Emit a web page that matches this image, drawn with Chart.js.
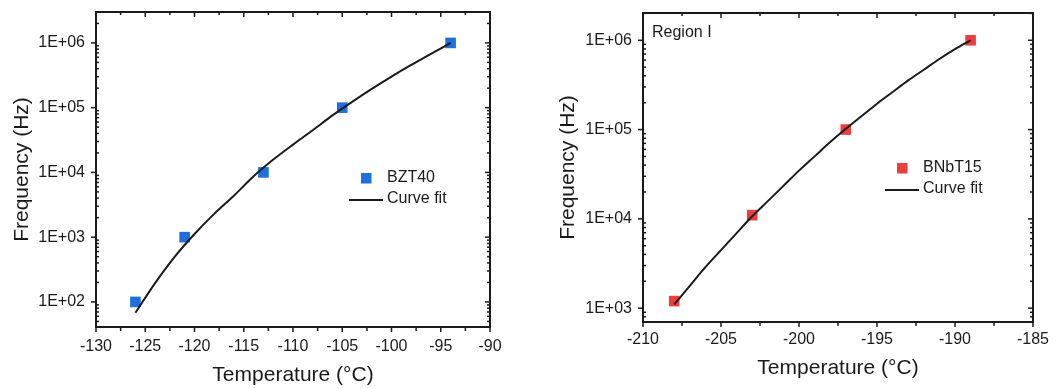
<!DOCTYPE html>
<html>
<head>
<meta charset="utf-8">
<script src="https://cdn.jsdelivr.net/npm/chart.js"></script>
<style>
  html, body { margin: 0; padding: 0; background: #fff; }
  .panel { position: absolute; top: 0; height: 389px; }
</style>
</head>
<body>
<div class="panel" style="left:0;width:520px"><canvas id="bzt" width="520" height="389"></canvas></div>
<div class="panel" style="left:540px;width:516px"><canvas id="bnbt" width="516" height="389"></canvas></div>
<script>
// BZT40: measured relaxation peaks and the fitted curve
const bztTemp = [-126, -121, -113, -105, -94];
const bztFreq = [100, 1000, 10000, 100000, 1000000];
const bztFitTemp = [-126, -124, -122, -120, -118, -116, -114, -112, -110, -108, -106, -104, -102, -100, -98, -96, -94];
const bztFitFreq = [68, 195, 500, 1120, 2290, 4370, 8710, 15800, 26900, 44700, 75900, 123000, 195000, 302000, 457000, 676000, 1000000];

// BNbT15 (region I)
const bnbtTemp = [-208, -203, -197, -189];
const bnbtFreq = [1200, 11000, 100000, 1000000];
const bnbtFitTemp = [-208, -207, -206, -205, -204, -203, -202, -201, -200, -199, -198, -197, -196, -195, -194, -193, -192, -191, -190, -189];
const bnbtFitFreq = [1100, 1780, 2880, 4470, 6920, 10700, 15800, 23400, 34700, 50100, 72400, 102000, 141000, 195000, 263000, 355000, 468000, 617000, 794000, 1000000];

// axis ticks
const bztXTicks = [-130, -125, -120, -115, -110, -105, -100, -95, -90];
const bztYTicks = [1e2, 1e3, 1e4, 1e5, 1e6];
const bztYLabels = ['1E+02', '1E+03', '1E+04', '1E+05', '1E+06'];
const bnbtXTicks = [-210, -205, -200, -195, -190, -185];
const bnbtYTicks = [1e3, 1e4, 1e5, 1e6];
const bnbtYLabels = ['1E+03', '1E+04', '1E+05', '1E+06'];

const ink = '#1a1a1a';
const FONT = '"Liberation Sans", Arial, sans-serif';

// box frame, mirrored ticks, minor ticks, inline legend and note
const framePlugin = {
  id: 'frame',
  afterDatasetsDraw(chart, args, opts) {
    const { ctx, chartArea: a, scales: { x, y } } = chart;
    ctx.save();
    ctx.strokeStyle = ink;
    ctx.lineWidth = 1.5;
    const line = (x1, y1, x2, y2) => { ctx.beginPath(); ctx.moveTo(x1, y1); ctx.lineTo(x2, y2); ctx.stroke(); };

    const xMajor = x.ticks.map(t => t.value);
    const xMinor = [];
    for (let i = 0; i < xMajor.length - 1; i++) xMinor.push((xMajor[i] + xMajor[i + 1]) / 2);
    xMajor.forEach(v => {
      const px = x.getPixelForValue(v);
      line(px, a.bottom, px, a.bottom + 5);
      line(px, a.top, px, a.top + 5);
    });
    xMinor.forEach(v => {
      const px = x.getPixelForValue(v);
      line(px, a.bottom, px, a.bottom + 4);
      line(px, a.top, px, a.top + 3);
    });

    const yMinor = [];
    for (let d = Math.floor(Math.log10(y.min)); d <= Math.ceil(Math.log10(y.max)); d++) {
      for (let k = 2; k <= 9; k++) {
        const v = k * Math.pow(10, d);
        if (v > y.min && v < y.max) yMinor.push(v);
      }
    }
    y.ticks.forEach(t => {
      const py = y.getPixelForValue(t.value);
      line(a.left - 5, py, a.left, py);
      line(a.right - 5, py, a.right, py);
    });
    yMinor.forEach(v => {
      const py = y.getPixelForValue(v);
      line(a.left, py, a.left + 3, py);
      line(a.right - 3, py, a.right, py);
    });

    ctx.lineWidth = 2;
    ctx.strokeRect(a.left, a.top, a.width, a.height);

    // legend
    const lg = opts.legend;
    const fit = chart.data.datasets[0];
    const pts = chart.data.datasets[1];
    ctx.font = '16px ' + FONT;
    ctx.fillStyle = ink;
    ctx.textBaseline = 'middle';
    ctx.textAlign = 'left';
    ctx.fillText(pts.label, lg.x, lg.y);
    ctx.fillText(fit.label, lg.x, lg.y + lg.gap);
    ctx.fillStyle = pts.backgroundColor;
    ctx.fillRect(lg.x - 26, lg.y - 5, 10.5, 10.5);
    ctx.strokeStyle = fit.borderColor;
    ctx.lineWidth = 2;
    line(lg.x - 38, lg.y + lg.gap + 1, lg.x - 4, lg.y + lg.gap + 1);

    if (opts.note) {
      ctx.fillStyle = ink;
      ctx.font = '16px ' + FONT;
      ctx.fillText(opts.note.text, opts.note.x, opts.note.y);
    }
    ctx.restore();
  }
};

function buildChart(id, p) {
  return new Chart(document.getElementById(id), {
    type: 'scatter',
    data: {
      datasets: [
        {
          label: 'Curve fit',
          data: p.fitT.map((t, i) => ({ x: t, y: p.fitF[i] })),
          showLine: true,
          cubicInterpolationMode: 'monotone',
          borderColor: ink,
          borderWidth: 2,
          pointRadius: 0,
          order: 0
        },
        {
          label: p.name,
          data: p.T.map((t, i) => ({ x: t, y: p.F[i] })),
          pointStyle: 'rect',
          pointRadius: 7.5,
          backgroundColor: p.color,
          borderWidth: 0,
          order: 1
        }
      ]
    },
    options: {
      responsive: false,
      animation: false,
      events: [],
      layout: { padding: { top: p.top, right: p.right, left: 0, bottom: 0 } },
      plugins: {
        legend: { display: false },
        tooltip: { enabled: false },
        frame: { legend: p.legend, note: p.note }
      },
      scales: {
        x: {
          type: 'linear',
          min: p.xTicks[0],
          max: p.xTicks[p.xTicks.length - 1],
          afterBuildTicks: s => { s.ticks = p.xTicks.map(v => ({ value: v })); },
          afterFit: s => { s.height = p.xh; s.paddingLeft = 0; s.paddingRight = 0; },
          grid: { display: false, drawTicks: false },
          border: { display: false },
          ticks: { color: ink, font: { size: 16, family: FONT }, padding: p.xPad, maxRotation: 0, autoSkip: false },
          title: { display: true, text: 'Temperature (°C)', color: ink, font: { size: 21, family: FONT }, padding: { top: 0, bottom: p.xTitlePad } }
        },
        y: {
          type: 'logarithmic',
          min: p.yMin,
          max: p.yMax,
          afterBuildTicks: s => { s.ticks = p.yTicks.map(v => ({ value: v })); },
          afterFit: s => { s.width = p.yw; s.paddingTop = 0; s.paddingBottom = 0; },
          grid: { display: false, drawTicks: false },
          border: { display: false },
          ticks: { color: ink, font: { size: 16, family: FONT }, padding: 11, autoSkip: false,
                   callback: (v, i) => p.yLabels[i] },
          title: { display: true, text: 'Frequency (Hz)', color: ink, font: { size: 21, family: FONT }, padding: { top: p.yTitlePad, bottom: 0 } }
        }
      }
    },
    plugins: [framePlugin]
  });
}

buildChart('bzt', {
  name: 'BZT40', color: '#1f6fdc',
  T: bztTemp, F: bztFreq, fitT: bztFitTemp, fitF: bztFitFreq,
  xTicks: bztXTicks, yTicks: bztYTicks, yLabels: bztYLabels,
  yMin: 41, yMax: 3.0e6,
  top: 12, right: 30, yw: 96, xh: 62,
  xPad: 10, xTitlePad: 1.4, yTitlePad: 9.4,
  legend: { x: 387, y: 178, gap: 21 }
});

buildChart('bnbt', {
  name: 'BNbT15', color: '#ee3d3d',
  T: bnbtTemp, F: bnbtFreq, fitT: bnbtFitTemp, fitF: bnbtFitFreq,
  xTicks: bnbtXTicks, yTicks: bnbtYTicks, yLabels: bnbtYLabels,
  yMin: 700, yMax: 2.02e6,
  top: 13, right: 23, yw: 103, xh: 67,
  xPad: 8, xTitlePad: 8.4, yTitlePad: 15.4,
  legend: { x: 383, y: 168, gap: 21 },
  note: { text: 'Region I', x: 112, y: 33 }
});
</script>
</body>
</html>
